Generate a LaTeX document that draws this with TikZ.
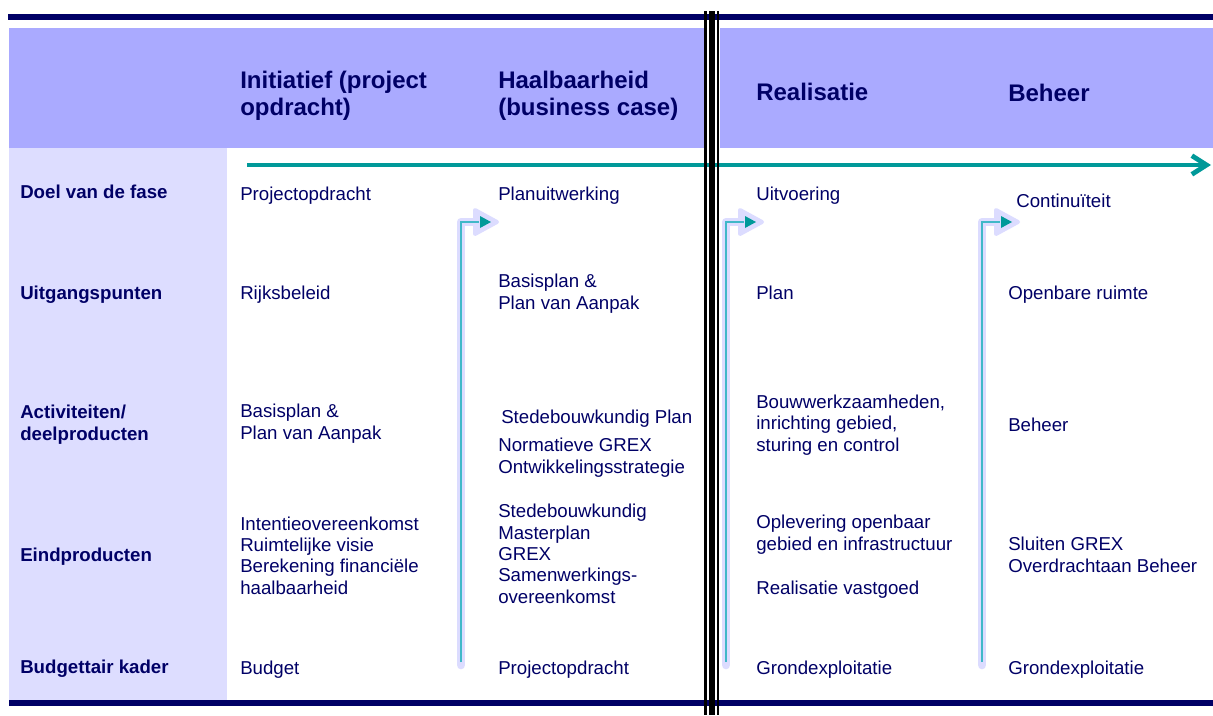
\documentclass[tikz,border=0pt]{standalone}
\usepackage{fontspec}
\setmainfont{Liberation Sans}
\usetikzlibrary{arrows.meta}
\definecolor{navy}{HTML}{000066}
\definecolor{hdrband}{HTML}{AAAAFF}
\definecolor{leftcol}{HTML}{DDDDFF}
\definecolor{tealc}{HTML}{009999}
\definecolor{tealthin}{HTML}{40B8C8}
\definecolor{lavband}{HTML}{DCDCFF}
\begin{document}
\begin{tikzpicture}[x=0.75pt,y=-0.75pt,
  hdr/.style={anchor=base west, inner sep=0pt, align=left, text=navy, font=\fontsize{18}{20.25}\selectfont\bfseries},
  lbl/.style={anchor=base west, inner sep=0pt, align=left, text=navy, font=\fontsize{14}{16.5}\selectfont\bfseries},
  body/.style={anchor=base west, inner sep=0pt, align=left, text=navy, font=\fontsize{14}{16}\selectfont},
  navyrule/.style={draw=navy, line width=4.5pt},
  mainarrow/.style={draw=tealc, line width=3.6pt, -{Straight Barb[length=11pt,width=14pt]}},
  bandline/.style={draw=lavband, line width=6.5pt, line cap=round, line join=round},
  thinline/.style={draw=tealthin, line width=1.1pt},
  bandhead/.style={fill=lavband, draw=lavband, line width=3pt, line join=round},
  teahead/.style={fill=tealc},
  sepline/.style={draw=black}
]
\useasboundingbox (0,0) rectangle (1213,715);
% backgrounds
\fill[hdrband] (9,28) rectangle (704.5,148);
\fill[hdrband] (719.5,28) rectangle (1213,148);
\fill[leftcol] (9,148) rectangle (227,700);
% rules
\draw[navyrule] (8,17) -- (1213,17);
\draw[navyrule] (9,703) -- (1213,703);
% main arrow
\coordinate (arrS) at (247,165);
\coordinate (arrE) at (1211,165);
\draw[mainarrow] (arrS) -- (arrE);
% bent arrows
\foreach \X/\n in {461/a,726/b,982/c}{
  \coordinate (\n bot) at (\X,665);
  \coordinate (\n cor) at (\X,222);
  \coordinate (\n end) at (\X+14,222);
  \draw[bandline] (\n bot) -- (\n cor) -- (\n end);
  \filldraw[bandhead] (\X+14,210) -- (\X+36,222) -- (\X+14,234) -- cycle;
  \draw[thinline] (\X,662) -- (\n cor) -- (\X+18,222);
  \fill[teahead] (\X+19,216) -- (\X+30,222) -- (\X+19,228) -- cycle;
}
% triple separator
\draw[sepline, line width=2pt] (705.4,11) -- (705.4,715);
\draw[sepline, line width=4.3pt] (711.9,11) -- (711.9,715);
\draw[sepline, line width=2pt] (718,11) -- (718,715);
% headers (anchor = baseline of last line)
\node[hdr] (h1) at (240,115) {Initiatief (project\\opdracht)};
\node[hdr] (h2) at (498,115) {Haalbaarheid\\(business case)};
\node[hdr] (h3) at (756,100) {Realisatie};
\node[hdr] (h4) at (1008,101) {Beheer};
% row labels
\node[lbl] (r1) at (20,198) {Doel van de fase};
\node[lbl] (r2) at (20,299) {Uitgangspunten};
\node[lbl] (r3) at (20,440) {Activiteiten/\\deelproducten};
\node[lbl] (r4) at (20,561) {Eindproducten};
\node[lbl] (r5) at (20,673) {Budgettair kader};
% column 1
\node[body] (c1a) at (240,200) {Projectopdracht};
\node[body] (c1b) at (240,299) {Rijksbeleid};
\node[body] (c1c) at (240,439) {Basisplan \&\\Plan van Aanpak};
\node[body] (c1d) at (240,594) {Intentieovereenkomst\\Ruimtelijke visie\\Berekening financiële\\haalbaarheid};
\node[body] (c1e) at (240,674) {Budget};
% column 2
\node[body] (c2a) at (498,200) {Planuitwerking};
\node[body] (c2b) at (498,309) {Basisplan \&\\Plan van Aanpak};
\node[body] (c2c) at (501,423) {Stedebouwkundig Plan};
\node[body] (c2d) at (498,473) {Normatieve GREX\\Ontwikkelingsstrategie};
\node[body] (c2e) at (498,603) {Stedebouwkundig\\Masterplan\\GREX\\Samenwerkings-\\overeenkomst};
\node[body] (c2f) at (498,674) {Projectopdracht};
% column 3
\node[body] (c3a) at (756,200) {Uitvoering};
\node[body] (c3b) at (756,299) {Plan};
\node[body] (c3c) at (756,451) {Bouwwerkzaamheden,\\inrichting gebied,\\sturing en control};
\node[body] (c3d) at (756,550) {Oplevering openbaar\\gebied en infrastructuur};
\node[body] (c3e) at (756,594) {Realisatie vastgoed};
\node[body] (c3f) at (756,674) {Grondexploitatie};
% column 4
\node[body] (c4a) at (1016,207) {Continuïteit};
\node[body] (c4b) at (1008,299) {Openbare ruimte};
\node[body] (c4c) at (1008,431) {Beheer};
\node[body] (c4d) at (1008,572) {Sluiten GREX\\Overdrachtaan Beheer};
\node[body] (c4e) at (1008,674) {Grondexploitatie};
\end{tikzpicture}
\end{document}
